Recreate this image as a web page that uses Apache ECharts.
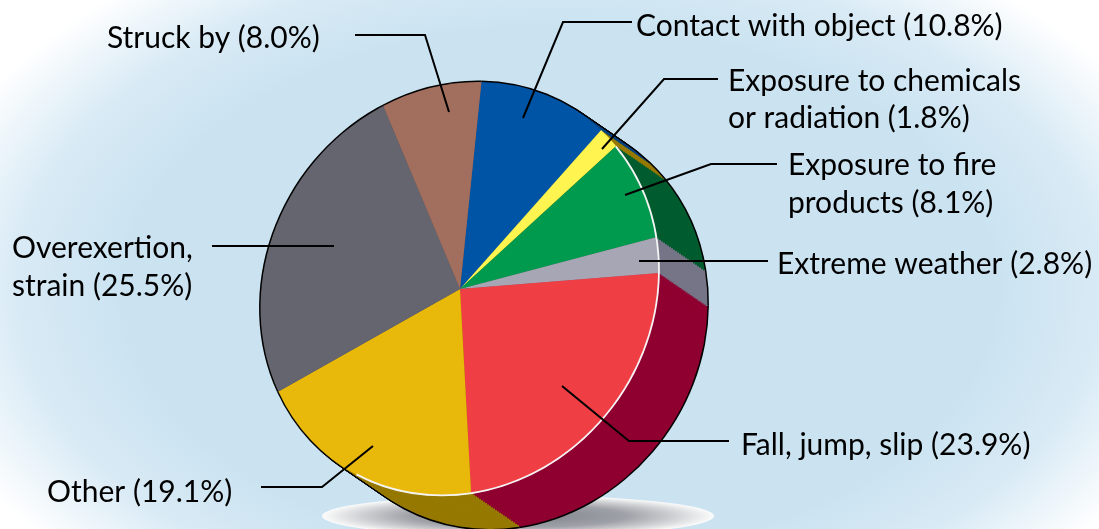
<!DOCTYPE html>
<html><head><meta charset="utf-8">
<script src="https://cdn.jsdelivr.net/npm/echarts@6/dist/echarts.min.js"></script>
<style>
html,body{margin:0;padding:0;width:1099px;height:529px;overflow:hidden;background:#fff}
#bg{position:absolute;left:0;top:0;width:1099px;height:529px;
background:radial-gradient(ellipse 660px 400px at 560px 290px,#cbe3f1 66%,#d8eaf5 82%,#ffffff 100%)}
#c{position:absolute;left:0;top:0;width:1099px;height:529px}
</style></head><body><div id="bg"></div><div id="c"></div>
<script>
const categories=["Contact with object","Exposure to chemicals or radiation","Exposure to fire products","Extreme weather","Fall, jump, slip","Other","Overexertion, strain","Struck by"];
const values=[10.8,1.8,8.1,2.8,23.9,19.1,25.5,8.0];
const faceColors=["#0054a6","#fff450","#009a4e","#a7a6b4","#f03e45","#e8b80a","#65656f","#a26f5f"];
const sideColors=["#00407e","#967900","#005c2e","#757587","#8f0030","#967900","#47474f","#6f4b40"];

const FONT='30px Lato, sans-serif';
const CX=460,CY=289,RA=213,RB=193,TILT=56,PHASE=30.5;
const DX=48,DY=33,STEPS=24;
const D2R=Math.PI/180;
const total=values.reduce((a,b)=>a+b,0);
const cumBefore=[];values.reduce((a,v,i)=>(cumBefore[i]=a,a+v),0);
const toLocal=d=>(d/total*360-PHASE)*D2R;

// one sector per slice, on a disc tilted slightly like the drawn perspective
function layer(z,dx,dy,pad,colorFn,name){
  return {type:'custom',name,coordinateSystem:'none',silent:true,animation:false,z,
    data:categories.map((c,i)=>({name:c,value:[values[i]]})),
    renderItem(params,api){
      const i=params.dataIndex,v=api.value(0);
      return {type:'sector',x:CX+dx,y:CY+dy,rotation:TILT*D2R,scaleX:RA+pad,scaleY:RB+pad,
        shape:{cx:0,cy:0,r0:0,r:1,startAngle:toLocal(cumBefore[i]),endAngle:toLocal(cumBefore[i]+v),clockwise:true},
        style:{fill:colorFn(i)}};
    }};
}
const series=[];
let z=2;
for(let s=STEPS;s>=0;s--) series.push(layer(z++,DX*s/STEPS,DY*s/STEPS,1.5,()=>'#000','outline'));
for(let s=STEPS;s>=1;s--) series.push(layer(z++,DX*s/STEPS,DY*s/STEPS,0,i=>sideColors[i],'side'));
series.push(layer(z++,0,0,0,i=>faceColors[i],'face'));
// white rim on the front face
const rimFrom=cumBefore[2],rimTo=57;
series.push({type:'custom',coordinateSystem:'none',silent:true,animation:false,z:z++,data:[[rimTo-rimFrom]],
  renderItem(params,api){
    return {type:'sector',x:CX,y:CY,rotation:TILT*D2R,scaleX:RA,scaleY:RB,
      shape:{cx:0,cy:0,r0:0.993,r:1.002,startAngle:toLocal(rimFrom),endAngle:toLocal(rimFrom+api.value(0)),clockwise:true},
      style:{fill:'#f4f4f4'}};
  }});

const leaders=[
 [[355,35],[425,35],[449,112]],
 [[632,22],[563,22],[523,118]],
 [[718,79],[664,79],[602,149]],
 [[777,164],[711,164],[625,195]],
 [[768,261],[639,261]],
 [[729,441],[629,441],[562,386]],
 [[261,487],[322,487],[373,446]],
 [[212,246],[334,246]]
];
const texts=[
 ["Struck by (8.0%)",107,38],
 ["Contact with object (10.8%)",636,26],
 ["Exposure to chemicals",728,81],
 ["or radiation (1.8%)",728,118],
 ["Exposure to fire",788,165],
 ["products (8.1%)",788,203],
 ["Extreme weather (2.8%)",777,264],
 ["Fall, jump, slip (23.9%)",741,445],
 ["Other (19.1%)",47,492],
 ["Overexertion,",12,248],
 ["strain (25.5%)",12,286]
];

const graphics=[{type:'circle',z:0,silent:true,x:518,y:516,scaleY:0.105,shape:{cx:0,cy:0,r:196},
  style:{fill:{type:'radial',x:0.5,y:0.5,r:0.5,colorStops:[
    {offset:0,color:'#7f8189'},{offset:0.55,color:'#9fa1a8'},{offset:0.8,color:'#cfd1d4'},{offset:1,color:'#fbfbfb'}]}}}];
leaders.forEach(p=>graphics.push({type:'polyline',z:200,silent:true,shape:{points:p},
  style:{stroke:'#000',lineWidth:2,fill:null}}));
texts.forEach(t=>graphics.push({type:'text',z:200,silent:true,x:t[1],y:t[2],
  style:{text:t[0],font:FONT,fill:'#000',textAlign:'left',textVerticalAlign:'middle'}}));

const chart=echarts.init(document.getElementById('c'),null,{renderer:'canvas'});
chart.setOption({animation:false,backgroundColor:'transparent',series,graphic:{elements:graphics}});
</script></body></html>
